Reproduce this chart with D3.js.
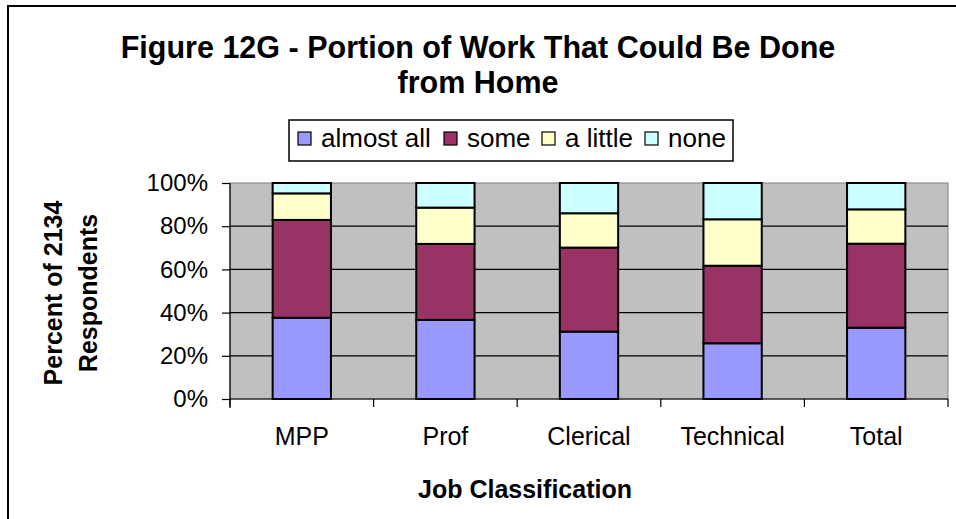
<!DOCTYPE html>
<meta charset='utf-8'>
<style>
    body { margin: 0; background: #fff; }
    text { font-family: 'Liberation Sans', Arial, sans-serif; fill: #000; }
    .bar { stroke: #000; stroke-width: 2; }
    .grid line { stroke: #000; stroke-width: 1.2; }
    .axis path, .axis line { stroke: #000; stroke-width: 1.2; }
</style>

<svg width="956" height="519"></svg>
<script src="https://d3js.org/d3.v7.min.js"></script>

<script>

var categories = ['MPP', 'Prof', 'Clerical', 'Technical', 'Total'];
var seriesNames = ['almost all', 'some', 'a little', 'none'];
var almostAll = [37.6, 36.6, 31.2, 25.8, 33.0];
var some = [45.3, 35.2, 38.9, 35.9, 38.9];
var aLittle = [12.3, 16.8, 15.9, 21.5, 15.9];
var none = [4.8, 11.4, 14.0, 16.8, 12.2];
var yTicks = [0, 20, 40, 60, 80, 100];
var colors = ['#9999ff', '#993366', '#ffffcc', '#ccffff'];

var svg = d3.select('svg');

var rows = categories.map(function(c, i) {
    return { cat: c, 'almost all': almostAll[i], 'some': some[i], 'a little': aLittle[i], 'none': none[i] };
});

var stacked = d3.stack().keys(seriesNames)(rows);

var plotL = 230, plotR = 948, plotT = 183, plotB = 399;

var x = d3.scaleBand()
    .domain(categories)
    .range([plotL, plotR])
    .paddingInner(0.594)
    .paddingOuter(0.297);

var y = d3.scaleLinear()
    .domain([0, 100])
    .range([plotB, plotT]);

var color = d3.scaleOrdinal().domain(seriesNames).range(colors);

// outer frame
svg.append('rect')
    .attr('x', 8).attr('y', 6)
    .attr('width', 1000).attr('height', 1000)
    .attr('fill', 'none')
    .attr('stroke', '#000')
    .attr('stroke-width', 2);

// plot background
svg.append('rect')
    .attr('x', plotL).attr('y', plotT)
    .attr('width', plotR - plotL).attr('height', plotB - plotT)
    .attr('fill', '#c0c0c0')
    .attr('stroke', '#808080')
    .attr('stroke-width', 1);

// gridlines
svg.append('g')
    .attr('class', 'grid')
  .selectAll('line')
  .data(yTicks.filter(function(d) { return d > 0 && d < 100; }))
  .enter().append('line')
    .attr('x1', plotL).attr('x2', plotR)
    .attr('y1', function(d) { return y(d); })
    .attr('y2', function(d) { return y(d); });

// bars
svg.append('g')
  .selectAll('g')
  .data(stacked)
  .enter().append('g')
    .attr('fill', function(d) { return color(d.key); })
  .selectAll('rect')
  .data(function(d) { return d; })
  .enter().append('rect')
    .attr('class', 'bar')
    .attr('x', function(d) { return x(d.data.cat); })
    .attr('width', x.bandwidth())
    .attr('y', function(d) { return y(d[1]); })
    .attr('height', function(d) { return y(d[0]) - y(d[1]); });

// y axis
var yAxis = svg.append('g')
    .attr('class', 'axis')
    .attr('transform', 'translate(' + plotL + ',0)')
    .call(d3.axisLeft(y).tickValues(yTicks).tickSize(8).tickPadding(14)
        .tickFormat(function(d) { return d + '%'; }));
yAxis.selectAll('text').style('font-size', '24px');
yAxis.select('.domain').attr('d', 'M0,' + plotT + 'V' + (plotB + 9));

// x axis
var xAxis = svg.append('g')
    .attr('class', 'axis')
    .attr('transform', 'translate(0,' + plotB + ')');
xAxis.append('line')
    .attr('x1', plotL).attr('x2', plotR);
xAxis.selectAll('.tk')
  .data(d3.range(categories.length + 1))
  .enter().append('line')
    .attr('class', 'tk')
    .attr('x1', function(i) { return plotL + i * x.step(); })
    .attr('x2', function(i) { return plotL + i * x.step(); })
    .attr('y1', 0).attr('y2', 8);
xAxis.selectAll('text')
  .data(categories)
  .enter().append('text')
    .attr('x', function(d) { return x(d) + x.bandwidth() / 2; })
    .attr('y', 46)
    .attr('text-anchor', 'middle')
    .style('font-size', '25px')
    .text(function(d) { return d; });

// titles
svg.append('text')
    .attr('x', 478).attr('y', 58)
    .attr('text-anchor', 'middle')
    .style('font-size', '30.5px').style('font-weight', 'bold')
    .text('Figure 12G - Portion of Work That Could Be Done');
svg.append('text')
    .attr('x', 478).attr('y', 93)
    .attr('text-anchor', 'middle')
    .style('font-size', '30.5px').style('font-weight', 'bold')
    .text('from Home');

svg.append('text')
    .attr('x', 525).attr('y', 498)
    .attr('text-anchor', 'middle')
    .style('font-size', '25px').style('font-weight', 'bold')
    .text('Job Classification');

var yTitle = svg.append('g')
    .attr('transform', 'translate(62,293) rotate(-90)');
yTitle.append('text')
    .attr('text-anchor', 'middle')
    .style('font-size', '25px').style('font-weight', 'bold')
    .text('Percent of 2134');
yTitle.append('text')
    .attr('y', 35)
    .attr('text-anchor', 'middle')
    .style('font-size', '25px').style('font-weight', 'bold')
    .text('Respondents');

// legend
var legend = svg.append('g');
legend.append('rect')
    .attr('x', 289).attr('y', 120)
    .attr('width', 444).attr('height', 41)
    .attr('fill', '#fff')
    .attr('stroke', '#000')
    .attr('stroke-width', 1.5);

var legendX = [298, 444, 542, 645];
seriesNames.forEach(function(s, i) {
    legend.append('rect')
        .attr('x', legendX[i]).attr('y', 132)
        .attr('width', 13).attr('height', 13)
        .attr('fill', color(s))
        .attr('stroke', '#000')
        .attr('stroke-width', 1.2);
    legend.append('text')
        .attr('x', legendX[i] + 23).attr('y', 147)
        .style('font-size', '26px')
        .text(s);
});

</script>
